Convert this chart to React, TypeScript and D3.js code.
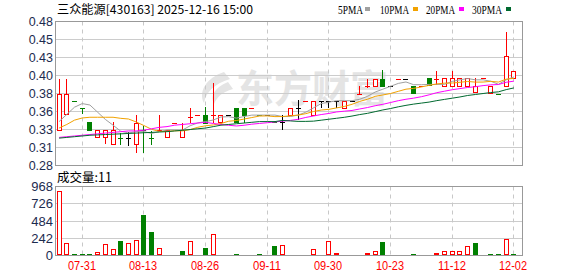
import React from "react";
import * as d3 from "d3";

const dates = ["07-25","07-28","07-29","07-31","08-01","08-04","08-05","08-06","08-07","08-08","08-11","08-13","08-14","08-15","08-18","08-19","08-20","08-21","08-22","08-26","08-27","08-28","08-29","09-01","09-02","09-04","09-08","09-11","09-12","09-15","09-16","09-18","09-22","09-24","09-26","09-30","10-09","10-10","10-13","10-14","10-16","10-17","10-21","10-23","10-24","10-27","10-28","10-30","11-03","11-05","11-10","11-12","11-13","11-14","11-17","11-19","11-21","11-25","11-27","12-02"];
const labelDates = ["07-31","08-13","08-26","09-11","09-30","10-23","11-12","12-02"];

const opens = [0.33,0.352,0.37,0.36,0.34,0.32,0.32,0.31,0.318,0.318,0.31,0.33,0.318,0.33,0.319,0.339,0.319,0.348,0.35,0.35,0.35,0.341,0.35,0.36,0.36,0.36,0.35,0.35,0.34,0.34,0.35,0.36,0.37,0.35,0.37,0.37,0.37,0.36,0.37,0.38,0.39,0.39,0.40,0.39,0.40,0.40,0.39,0.39,0.401,0.40,0.391,0.391,0.391,0.391,0.382,0.401,0.381,0.38,0.391,0.402];
const highs = [0.40,0.40,0.37,0.36,0.34,0.33,0.33,0.34,0.325,0.326,0.35,0.335,0.328,0.35,0.33,0.339,0.339,0.36,0.35,0.361,0.395,0.35,0.35,0.36,0.36,0.36,0.35,0.35,0.342,0.35,0.36,0.371,0.37,0.37,0.37,0.37,0.37,0.37,0.37,0.39,0.40,0.40,0.412,0.39,0.40,0.40,0.39,0.39,0.401,0.411,0.401,0.411,0.401,0.401,0.401,0.401,0.391,0.38,0.465,0.411];
const lows = [0.33,0.352,0.37,0.352,0.33,0.32,0.31,0.31,0.309,0.307,0.298,0.298,0.308,0.33,0.319,0.339,0.319,0.339,0.35,0.339,0.339,0.341,0.35,0.34,0.339,0.36,0.35,0.35,0.339,0.33,0.35,0.343,0.37,0.35,0.36,0.36,0.36,0.36,0.37,0.38,0.388,0.39,0.39,0.39,0.40,0.40,0.381,0.39,0.392,0.392,0.391,0.391,0.391,0.391,0.382,0.401,0.381,0.38,0.391,0.402];
const closes = [0.38,0.38,0.37,0.36,0.33,0.33,0.33,0.33,0.318,0.318,0.339,0.33,0.318,0.33,0.33,0.339,0.329,0.348,0.35,0.339,0.35,0.35,0.35,0.34,0.35,0.36,0.35,0.35,0.34,0.34,0.36,0.36,0.37,0.37,0.37,0.37,0.37,0.37,0.37,0.38,0.39,0.40,0.39,0.39,0.40,0.40,0.381,0.39,0.392,0.40,0.401,0.401,0.401,0.401,0.391,0.401,0.391,0.38,0.432,0.411];
const volumes = [898,182,14,28,28,56,168,98,210,182,215,575,327,108,14,14,61,210,14,112,295,10,10,28,28,14,14,14,140,154,14,28,14,94,28,210,37,14,14,14,37,70,196,14,14,14,28,14,28,42,70,70,70,136,182,14,28,14,234,11];

const ma5Head = [0.341,0.351,0.361,0.366];
const ma10Head = [0.332,0.337,0.343,0.346,0.347,0.347,0.347,0.347,0.3455];
const ma20Head = [0.319,0.320,0.321,0.322,0.323,0.324,0.325,0.326,0.327,0.328,0.328,0.329,0.331,0.333,0.334,0.336,0.337,0.338,0.339];
const ma30Head = [0.318,0.319,0.320,0.321,0.322,0.3225,0.323,0.3235,0.324,0.3245,0.325,0.3255,0.326,0.3265,0.327,0.328,0.329,0.330,0.331,0.332,0.334,0.336,0.337,0.338,0.339,0.340,0.341,0.341,0.341];

const priceTicks = [0.28,0.305,0.33,0.355,0.38,0.405,0.43,0.455,0.48];
const priceTickLabels = ["0.28","0.31","0.33","0.36","0.38","0.40","0.43","0.45","0.48"];
const volTicks = [0,242,484,726,968];

const maSeries = [
  { name: "5PMA", n: 5, head: ma5Head, color: "#a0a0a0" },
  { name: "10PMA", n: 10, head: ma10Head, color: "#f2a200" },
  { name: "20PMA", n: 20, head: ma20Head, color: "#ff00ff" },
  { name: "30PMA", n: 30, head: ma30Head, color: "#00692f" },
];

const RED = "#ff0000";
const GREEN = "#008000";
const BLACK = "#000000";

function maValues(n: number, head: number[]) {
  return closes.map((_, i) => (i >= n - 1 ? (d3.mean(closes.slice(i - n + 1, i + 1)) as number) : head[i]));
}

function candleColor(i: number) {
  const o = opens[i], c = closes[i];
  if (c > o) return RED;
  if (c < o) return GREEN;
  if (i === 0) return RED;
  if (c > closes[i - 1]) return RED;
  if (c < closes[i - 1]) return GREEN;
  return BLACK;
}
function volColor(i: number) {
  if (i === 0) return closes[0] >= opens[0] ? RED : GREEN;
  return closes[i] >= closes[i - 1] ? RED : GREEN;
}

export default function App() {
  const W = 578, H = 276;
  const L = 55.5, R = 522.5;
  const x = d3.scalePoint<string>().domain(dates).range([59.6, 514.4]);
  const yp = d3.scaleLinear().domain([0.28, 0.48]).range([165.5, 21.5]);
  const yv = d3.scaleLinear().domain([0, 968]).range([255.5, 186.5]);
  const cx = (d: string) => Math.round(x(d) as number);
  const labelFont = "'Liberation Sans', Arial, sans-serif";
  const cjk = "'Noto Sans CJK SC', sans-serif";

  const legendItems = [
    { t: "5PMA", x: 338, w: 25, sq: 365 },
    { t: "10PMA", x: 380, w: 29, sq: 413 },
    { t: "20PMA", x: 426, w: 29, sq: 459 },
    { t: "30PMA", x: 472, w: 30, sq: 506 },
  ];

  return (
    <svg width={W} height={H} style={{ position: "absolute", left: 0, top: 0, background: "#fff" }}>
      <rect x={0} y={0} width={W} height={H} fill="#fff" />
      {/* title */}
      <text x={57} y={14} fontFamily={cjk} fontSize={12} fill="#000" textLength={196} lengthAdjust="spacingAndGlyphs">
        三众能源[430163] 2025-12-16 15:00
      </text>
      {/* legend */}
      {legendItems.map((it, k) => (
        <g key={it.t}>
          <text x={it.x} y={13.5} fontFamily="'Liberation Serif', serif" fontSize={13} fill="#000" textLength={it.w} lengthAdjust="spacingAndGlyphs">{it.t}</text>
          <rect x={it.sq} y={7} width={5} height={4} fill={maSeries[k].color} />
        </g>
      ))}

      {/* watermark */}
      <g fill="#e4e4e4">
        <path d="M224 72 C206 78 198 92 204 103 C206 92 214 84 230 79 Z" />
        <path d="M228 82 C214 88 210 96 214 104 C217 97 222 92 233 89 Z" />
        <text x={236} y={102} fontFamily={cjk} fontSize={38} fontWeight={700}>东方财富</text>
      </g>

      {/* price grid */}
      {priceTicks.map((t) => (
        <line key={"pg" + t} x1={L} x2={R} y1={Math.round(yp(t) - 0.5) + 0.5} y2={Math.round(yp(t) - 0.5) + 0.5} stroke="#cccccc" />
      ))}
      {volTicks.map((t) => (
        <line key={"vg" + t} x1={L} x2={R} y1={Math.round(yv(t) - 0.5) + 0.5} y2={Math.round(yv(t) - 0.5) + 0.5} stroke="#cccccc" />
      ))}
      {labelDates.map((d) => (
        <g key={"vl" + d}>
          <line x1={cx(d) - 0.5} x2={cx(d) - 0.5} y1={21.5} y2={165.5} stroke="#c8c8c8" strokeDasharray="4,4" />
          <line x1={cx(d) - 0.5} x2={cx(d) - 0.5} y1={186.5} y2={255.5} stroke="#c8c8c8" strokeDasharray="4,4" />
        </g>
      ))}

      {/* candles */}
      {dates.map((d, i) => {
        const c = cx(d);
        const col = candleColor(i);
        const top = Math.round(yp(Math.max(opens[i], closes[i])));
        const bot = Math.round(yp(Math.min(opens[i], closes[i])));
        const hy = Math.round(yp(highs[i]));
        const ly = Math.round(yp(lows[i]));
        const wick = hy !== ly ? <line x1={c - 0.5} x2={c - 0.5} y1={hy} y2={ly} stroke={col} /> : null;
        let body;
        if (bot - top < 1) {
          body = <line x1={c - 3} x2={c + 2} y1={top + 0.5} y2={top + 0.5} stroke={col} />;
        } else if (col === RED) {
          body = <rect x={c - 2.5} y={top + 0.5} width={4} height={bot - top} fill="#fff" stroke={col} />;
        } else {
          body = <rect x={c - 3} y={top} width={5} height={bot - top + 1} fill={col} />;
        }
        return (
          <g key={"c" + i}>
            {wick}
            {body}
          </g>
        );
      })}

      {/* moving averages */}
      {maSeries.map((s) => {
        const vals = maValues(s.n, s.head);
        const line = d3
          .line<number>()
          .x((_, i) => (x(dates[i]) as number) - 0.5)
          .y((v) => yp(v));
        return <path key={s.name} d={line(vals) || ""} fill="none" stroke={s.color} strokeWidth={1} />;
      })}

      {/* volume bars */}
      {dates.map((d, i) => {
        const c = cx(d);
        const col = volColor(i);
        const top = Math.round(yv(volumes[i]));
        const base = 255;
        if (col === RED) {
          const h = Math.max(0, base - 1 - top);
          return <rect key={"v" + i} x={c - 2.5} y={Math.min(top, base - 1) + 0.5} width={4} height={h} fill="#fff" stroke={RED} />;
        }
        return <rect key={"v" + i} x={c - 3} y={Math.min(top, base - 1)} width={5} height={Math.max(1, base - top)} fill={GREEN} />;
      })}

      {/* frames */}
      <rect x={L} y={21.5} width={R - L} height={144} fill="none" stroke="#999999" />
      <rect x={L} y={186.5} width={R - L} height={69} fill="none" stroke="#999999" />

      {/* y labels */}
      {priceTicks.map((t, k) => (
        <text key={"pl" + t} x={53} y={yp(t)} dy="0.36em" textAnchor="end" fontFamily={labelFont} fontSize={12.5} fill="#1c2b4f">
          {priceTickLabels[k]}
        </text>
      ))}
      {volTicks.map((t) => (
        <text key={"vlb" + t} x={53} y={yv(t)} dy="0.36em" textAnchor="end" fontFamily={labelFont} fontSize={13} fill="#1c2b4f">
          {t}
        </text>
      ))}

      {/* volume title */}
      <text x={57} y={182} fontFamily={cjk} fontSize={12.5} fill="#000">成交量:{volumes[volumes.length - 1]}</text>

      {/* x labels */}
      {labelDates.map((d) => (
        <text key={"xl" + d} x={cx(d) - 1} y={270} textAnchor="middle" fontFamily={labelFont} fontSize={13} fill={RED} textLength={28} lengthAdjust="spacingAndGlyphs">
          {d}
        </text>
      ))}
    </svg>
  );
}
